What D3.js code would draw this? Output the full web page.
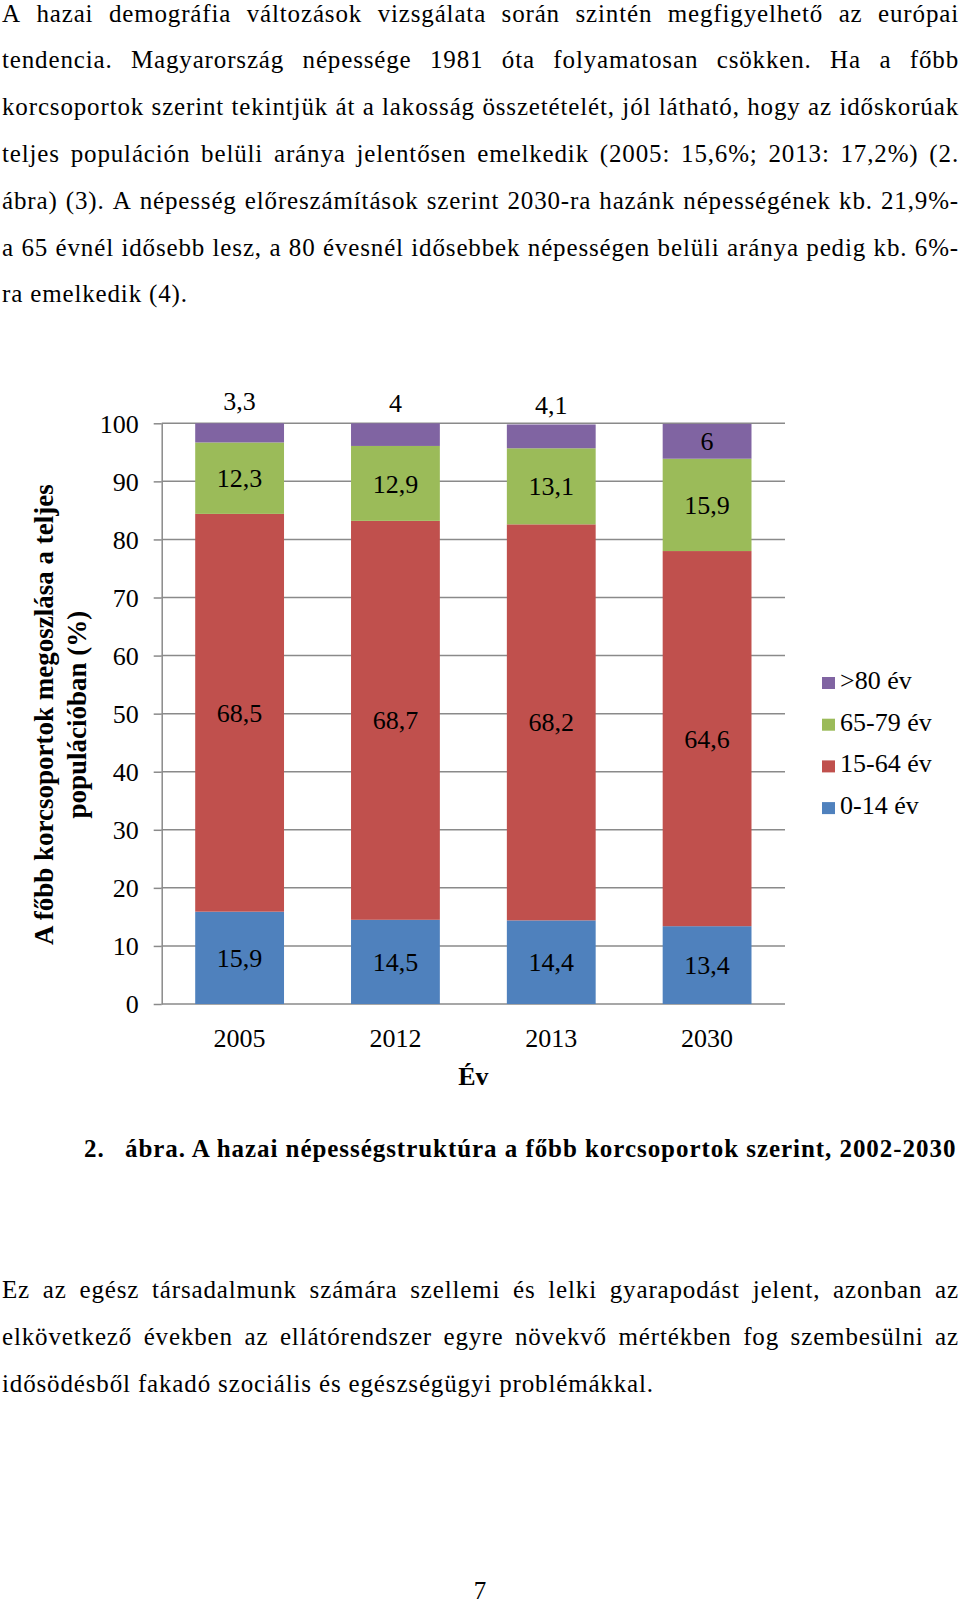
<!DOCTYPE html>
<html><head><meta charset="utf-8">
<script src="https://cdn.jsdelivr.net/npm/d3@7"></script>
<style>
body{margin:0;background:#fff}
svg{display:block}
text{font-family:"Liberation Serif","Times New Roman",serif;fill:#000}
</style>
</head><body>
<svg id="c" width="960" height="1604"></svg>
<script>
// ---- data ----
const years = ["2005", "2012", "2013", "2030"];
const seriesKeys = ["a0_14", "a15_64", "a65_79", "a80"];
const seriesNames = ["0-14 év", "15-64 év", "65-79 év", ">80 év"];
const age0_14 = [15.9, 14.5, 14.4, 13.4];
const age15_64 = [68.5, 68.7, 68.2, 64.6];
const age65_79 = [12.3, 12.9, 13.1, 15.9];
const age80 = [3.3, 4, 4.1, 6];
const yTicks = [0, 10, 20, 30, 40, 50, 60, 70, 80, 90, 100];
const yTitle = ["A főbb korcsoportok megoszlása a teljes", "populációban (%)"];
const xTitle = "Év";
const captionNum = "2.";
const captionText = "ábra. A hazai népességstruktúra a főbb korcsoportok szerint, 2002-2030";
const paraTop = [
  "A hazai demográfia változások vizsgálata során szintén megfigyelhető az európai",
  "tendencia. Magyarország népessége 1981 óta folyamatosan csökken. Ha a főbb",
  "korcsoportok szerint tekintjük át a lakosság összetételét, jól látható, hogy az időskorúak",
  "teljes populáción belüli aránya jelentősen emelkedik (2005: 15,6%; 2013: 17,2%) (2.",
  "ábra) (3). A népesség előreszámítások szerint 2030-ra hazánk népességének kb. 21,9%-",
  "a 65 évnél idősebb lesz, a 80 évesnél idősebbek népességen belüli aránya pedig kb. 6%-",
  "ra emelkedik (4)."
];
const paraBottom = [
  "Ez az egész társadalmunk számára szellemi és lelki gyarapodást jelent, azonban az",
  "elkövetkező években az ellátórendszer egyre növekvő mértékben fog szembesülni az",
  "idősödésből fakadó szociális és egészségügyi problémákkal."
];
const pageNumber = "7";

// ---- style ----
const colors = {a0_14: "#4F81BD", a15_64: "#C0504D", a65_79: "#9BBB59", a80: "#8064A2"};
const gridColor = "#8a8a8a";
const chartFont = 26;
const titleFont = 27;
const bodyFont = 25;
const bodySpacing = 0.85;

const svg = d3.select("#c");
const doc = svg.append("g");

// ---- justified paragraphs ----
function drawPara(lines, x0, x1, y0, lh) {
  lines.forEach((str, li) => {
    const yy = y0 + li * lh;
    const t = doc.append("text").attr("y", yy).style("font-size", bodyFont + "px")
      .style("letter-spacing", bodySpacing + "px");
    const last = li === lines.length - 1;
    if (last) { t.attr("x", x0).text(str); return; }
    const words = str.split(" ");
    const ts = words.map(w => t.append("tspan").text(w));
    const ws = ts.map(s => s.node().getComputedTextLength());
    const gap = (x1 - x0 - d3.sum(ws)) / (words.length - 1);
    let xx = x0;
    ts.forEach((s, i) => { s.attr("x", xx); xx += ws[i] + gap; });
  });
}
drawPara(paraTop, 2, 959, 21.5, 46.8);
drawPara(paraBottom, 2, 959, 1298, 46.8);

// caption
doc.append("text").attr("x", 84).attr("y", 1157).style("font-size", bodyFont + "px")
  .style("font-weight", "bold").style("letter-spacing", "0.95px").text(captionNum);
doc.append("text").attr("x", 125).attr("y", 1157).style("font-size", bodyFont + "px")
  .style("font-weight", "bold").style("letter-spacing", "0.95px").text(captionText);

// page number
doc.append("text").attr("x", 480).attr("y", 1599).attr("text-anchor", "middle")
  .style("font-size", bodyFont + "px").text(pageNumber);

// ---- chart ----
const pLeft = 161.7, pRight = 785, pTop = 423.3, pBottom = 1004;
const table = years.map((yr, i) => ({
  year: yr, a0_14: age0_14[i], a15_64: age15_64[i], a65_79: age65_79[i], a80: age80[i]
}));
const stack = d3.stack().keys(seriesKeys)(table);

const x = d3.scaleBand().domain(years).range([pLeft, pRight]).paddingInner(0.43).paddingOuter(0.215);
const y = d3.scaleLinear().domain([0, 100]).range([pBottom, pTop]);

const g = svg.append("g");

// gridlines
g.append("g").selectAll("line").data(yTicks).join("line")
  .attr("x1", pLeft).attr("x2", pRight)
  .attr("y1", d => y(d)).attr("y2", d => y(d))
  .attr("stroke", gridColor).attr("stroke-width", 1.5);

// y axis
const yAxis = g.append("g").attr("transform", `translate(${pLeft},0)`)
  .call(d3.axisLeft(y).tickValues(yTicks).tickSizeInner(8).tickSizeOuter(0).tickPadding(15));
yAxis.attr("font-family", null).attr("font-size", null);
yAxis.select(".domain").attr("stroke", gridColor).attr("stroke-width", 1.5);
yAxis.selectAll(".tick line").attr("stroke", gridColor).attr("stroke-width", 1.5);
yAxis.selectAll(".tick text").style("font-size", chartFont + "px")
  .attr("dy", "0.34em").style("fill", "#000");

// bars
const layers = g.append("g").selectAll("g").data(stack).join("g")
  .attr("fill", d => colors[d.key]);
layers.selectAll("rect").data(d => d).join("rect")
  .attr("x", d => x(d.data.year))
  .attr("width", x.bandwidth())
  .attr("y", d => y(Math.min(d[1], 100)))
  .attr("height", d => y(d[0]) - y(Math.min(d[1], 100)));

// data labels
const fmt = v => String(v).replace(".", ",");
stack.forEach(layer => {
  layer.forEach(d => {
    const mid = (d[0] + d[1]) / 2;
    const hPx = y(d[0]) - y(d[1]);
    let cy = y(mid);
    if (hPx < 30) cy -= 31.5; // small top segment: label above the bar
    g.append("text")
      .attr("x", x(d.data.year) + x.bandwidth() / 2)
      .attr("y", cy)
      .attr("dy", "0.35em")
      .attr("text-anchor", "middle")
      .style("font-size", chartFont + "px")
      .text(fmt(d.data[layer.key]));
  });
});

// x labels
g.append("g").selectAll("text").data(years).join("text")
  .attr("x", d => x(d) + x.bandwidth() / 2)
  .attr("y", 1047)
  .attr("text-anchor", "middle")
  .style("font-size", chartFont + "px")
  .text(d => d);

// x title
g.append("text").attr("x", (pLeft + pRight) / 2).attr("y", 1085)
  .attr("text-anchor", "middle").style("font-size", chartFont + "px")
  .style("font-weight", "bold").text(xTitle);

// y title
const ymid = (pTop + pBottom) / 2 + 1;
[53, 86].forEach((bx, i) => {
  g.append("text").attr("transform", `translate(${bx},${ymid}) rotate(-90)`)
    .attr("text-anchor", "middle").style("font-size", titleFont + "px")
    .style("font-weight", "bold").text(yTitle[i]);
});

// legend
const legendKeys = seriesKeys.slice().reverse();
const lg = g.append("g").attr("transform", "translate(822,677)");
legendKeys.forEach((k, i) => {
  const row = lg.append("g").attr("transform", `translate(0,${i * 41.7})`);
  row.append("rect").attr("width", 13).attr("height", 12).attr("fill", colors[k]);
  row.append("text").attr("x", 18).attr("y", 12).style("font-size", chartFont + "px")
    .text(seriesNames[seriesKeys.indexOf(k)]);
});
</script>
</body></html>
